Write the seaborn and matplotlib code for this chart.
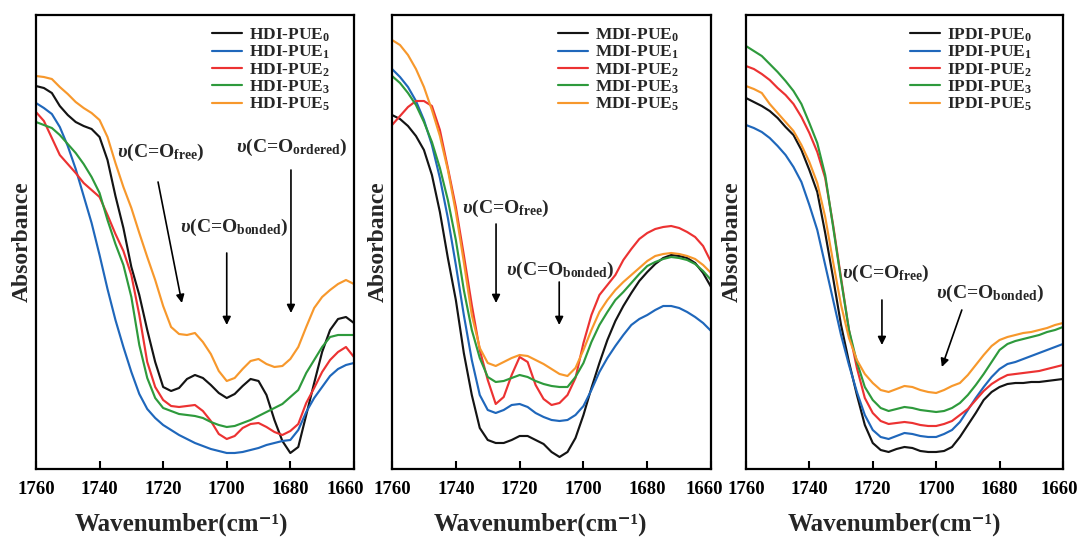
import matplotlib
matplotlib.use("Agg")
import matplotlib.pyplot as plt
from matplotlib.transforms import ScaledTranslation
import pandas as pd
import seaborn as sns

# ---------------- data (absorbance, arbitrary units) ----------------
wavenumber = [1760, 1757.5, 1755, 1752.5, 1750, 1747.5, 1745, 1742.5, 1740, 1737.5,
              1735, 1732.5, 1730, 1727.5, 1725, 1722.5, 1720, 1717.5, 1715, 1712.5,
              1710, 1707.5, 1705, 1702.5, 1700, 1697.5, 1695, 1692.5, 1690, 1687.5,
              1685, 1682.5, 1680, 1677.5, 1675, 1672.5, 1670, 1667.5, 1665, 1662.5, 1660]

hdi_pue0 = [383, 381, 376, 363, 354, 347, 343, 340, 332, 309, 273, 241, 202, 174, 139, 107, 82, 78, 81, 90,
            94, 91, 84, 76, 71, 75, 83, 90, 88, 74, 49, 28, 16, 22, 54, 86, 117, 139, 150, 152, 146]
hdi_pue1 = [366, 361, 355, 342, 323, 300, 273, 246, 214, 180, 149, 122, 97, 75, 60, 51, 44, 39, 34, 30,
            26, 23, 20, 18, 16, 16, 17, 19, 21, 24, 26, 28, 29, 39, 57, 71, 82, 93, 100, 104, 106]
hdi_pue2 = [357, 348, 331, 314, 305, 296, 286, 279, 272, 254, 235, 218, 194, 154, 107, 82, 69, 63, 62, 63,
            64, 58, 48, 35, 30, 33, 41, 45, 46, 42, 37, 34, 38, 45, 66, 81, 97, 109, 117, 122, 112]
hdi_pue3 = [347, 344, 341, 334, 325, 316, 305, 292, 276, 249, 225, 204, 172, 124, 91, 71, 61, 58, 55, 54,
            53, 51, 47, 44, 42, 43, 46, 49, 53, 57, 61, 65, 72, 79, 96, 109, 122, 132, 134, 134, 134]
hdi_pue5 = [393, 392, 390, 382, 375, 367, 361, 356, 349, 332, 306, 282, 261, 236, 212, 189, 163, 142, 135, 134,
            136, 127, 115, 98, 88, 91, 100, 108, 110, 105, 102, 103, 110, 122, 142, 161, 172, 179, 185, 189, 185]

mdi_pue0 = [354, 350, 343, 333, 319, 294, 257, 211, 169, 116, 74, 41, 29, 26, 26, 29, 33, 33, 29, 25,
            17, 12, 17, 31, 54, 81, 106, 129, 148, 163, 176, 188, 197, 205, 211, 214, 213, 211, 206, 196, 182]
mdi_pue1 = [400, 392, 382, 368, 349, 324, 291, 251, 204, 154, 109, 74, 59, 56, 59, 64, 65, 62, 56, 52,
            49, 48, 49, 54, 63, 79, 97, 111, 123, 134, 144, 150, 154, 159, 163, 163, 161, 157, 152, 146, 138]
mdi_pue2 = [344, 353, 362, 368, 368, 363, 339, 301, 262, 214, 164, 119, 89, 65, 72, 94, 112, 107, 84, 70,
            64, 66, 74, 91, 126, 154, 174, 184, 194, 209, 220, 230, 236, 240, 242, 243, 241, 237, 232, 223, 207]
mdi_pue3 = [393, 386, 376, 364, 347, 327, 301, 269, 229, 179, 139, 111, 92, 87, 88, 91, 94, 92, 88, 85,
            83, 82, 82, 92, 106, 127, 144, 157, 169, 177, 186, 195, 203, 207, 210, 212, 211, 209, 205, 198, 189]
mdi_pue5 = [429, 424, 414, 400, 382, 359, 333, 299, 257, 207, 154, 121, 106, 103, 107, 111, 114, 113, 109, 105,
            100, 95, 93, 101, 119, 139, 157, 169, 179, 187, 194, 201, 208, 213, 215, 216, 215, 213, 210, 204, 196]

ipdi_pue0 = [371, 367, 363, 358, 351, 342, 334, 319, 299, 277, 236, 191, 144, 107, 74, 44, 26, 19, 17, 20,
             22, 21, 18, 17, 17, 18, 22, 32, 44, 56, 69, 77, 82, 85, 86, 86, 87, 87, 88, 89, 90]
ipdi_pue1 = [344, 341, 337, 331, 323, 314, 302, 287, 264, 239, 204, 169, 134, 104, 77, 54, 39, 32, 30, 33,
             36, 35, 33, 32, 32, 35, 39, 47, 59, 71, 82, 92, 100, 105, 107, 110, 113, 116, 119, 122, 125]
ipdi_pue2 = [403, 400, 395, 389, 381, 374, 365, 352, 336, 317, 291, 244, 191, 139, 101, 71, 56, 48, 45, 46,
             47, 46, 44, 43, 43, 45, 48, 54, 60, 69, 78, 85, 90, 94, 95, 96, 97, 98, 100, 102, 104]
ipdi_pue3 = [423, 418, 413, 405, 397, 388, 378, 365, 346, 326, 294, 242, 189, 139, 107, 82, 69, 61, 58, 60,
             62, 61, 59, 58, 57, 58, 61, 66, 74, 84, 95, 107, 119, 125, 128, 130, 132, 134, 137, 139, 142]
ipdi_pue5 = [383, 380, 376, 365, 356, 347, 338, 324, 307, 286, 252, 207, 164, 131, 109, 95, 86, 79, 77, 80,
             83, 82, 79, 77, 76, 79, 83, 86, 94, 104, 114, 123, 129, 132, 134, 136, 137, 139, 141, 144, 146]

sample_suffix = ["0", "1", "2", "3", "5"]
series_colors = ["#141414", "#1f67bb", "#ec3232", "#2e9a3c", "#f7982c"]
x_ticks = [1760, 1740, 1720, 1700, 1680, 1660]

panels = [
    ("HDI", [hdi_pue0, hdi_pue1, hdi_pue2, hdi_pue3, hdi_pue5]),
    ("MDI", [mdi_pue0, mdi_pue1, mdi_pue2, mdi_pue3, mdi_pue5]),
    ("IPDI", [ipdi_pue0, ipdi_pue1, ipdi_pue2, ipdi_pue3, ipdi_pue5]),
]

# ---------------- style ----------------
sns.set_style("ticks")
plt.rcParams["font.family"] = ["Liberation Serif", "DejaVu Serif"]
plt.rcParams["font.weight"] = "bold"
plt.rcParams["axes.labelweight"] = "bold"
plt.rcParams["mathtext.fontset"] = "custom"
plt.rcParams["mathtext.rm"] = "Liberation Serif:bold"
plt.rcParams["mathtext.bf"] = "Liberation Serif:bold"
plt.rcParams["mathtext.it"] = "Liberation Serif:italic:bold"

fig = plt.figure(figsize=(10.8, 5.4), dpi=100)
positions = [[0.0333, 0.1315, 0.2944, 0.8407],
             [0.3630, 0.1315, 0.2954, 0.8407],
             [0.6907, 0.1315, 0.2935, 0.8407]]
legend_x = [0.553, 0.520, 0.517]
xlabel_x = [0.456, 0.464, 0.467]
last_tick_shift = [-9, -7, -4]  # px

annotations = [
    [(r"$\upsilon$(C=O$_{\mathrm{free}}$)", (1720.7, 317), (1721.6, 287), (1714.1, 166)),
     (r"$\upsilon$(C=O$_{\mathrm{bonded}}$)", (1697.7, 242), (1700.0, 216), (1700.0, 144)),
     (r"$\upsilon$(C=O$_{\mathrm{ordered}}$)", (1679.5, 322), (1679.8, 299), (1679.8, 156))],
    [(r"$\upsilon$(C=O$_{\mathrm{free}}$)", (1724.3, 261), (1727.4, 245), (1727.4, 166)),
     (r"$\upsilon$(C=O$_{\mathrm{bonded}}$)", (1707.3, 199), (1707.6, 187), (1707.6, 144))],
    [(r"$\upsilon$(C=O$_{\mathrm{free}}$)", (1715.8, 196), (1717.1, 169), (1717.1, 124)),
     (r"$\upsilon$(C=O$_{\mathrm{bonded}}$)", (1683.0, 176), (1691.9, 159), (1698.2, 102))],
]

for i, (name, series) in enumerate(panels):
    ax = fig.add_axes(positions[i])
    labels = [f"{name}-PUE$_{s}$" for s in sample_suffix]
    frames = []
    for lab, vals in zip(labels, series):
        frames.append(pd.DataFrame({"Wavenumber": wavenumber, "Absorbance": vals, "Sample": lab}))
    df = pd.concat(frames, ignore_index=True)
    sns.lineplot(data=df, x="Wavenumber", y="Absorbance", hue="Sample",
                 palette=dict(zip(labels, series_colors)), linewidth=1.55, ax=ax)

    ax.set_xlim(1760, 1660)
    ax.set_ylim(0, 454)
    ax.set_yticks([])
    ax.set_xticks(x_ticks)
    ax.set_xticklabels([str(t) for t in x_ticks])
    ax.tick_params(axis="x", direction="in", length=6, width=1.5, pad=9,
                   labelsize=13.5, colors="black")
    tl = ax.get_xticklabels()[-1]
    tl.set_transform(tl.get_transform() +
                     ScaledTranslation(last_tick_shift[i] / 100, 0, fig.dpi_scale_trans))
    for sp in ax.spines.values():
        sp.set_visible(True)
        sp.set_linewidth(1.6)
        sp.set_color("black")
    ax.set_xlabel("Wavenumber(cm\u207b\u00b9)", fontsize=18, fontweight="bold")
    ax.xaxis.set_label_coords(xlabel_x[i], -0.095)
    ax.set_ylabel("Absorbance", fontsize=17, fontweight="bold", labelpad=2)

    handles, hl = ax.get_legend_handles_labels()
    ax.legend(handles, hl, loc="upper left", bbox_to_anchor=(legend_x[i], 0.975),
              frameon=False, labelspacing=0.0, handlelength=1.75,
              handletextpad=0.4, borderpad=0, borderaxespad=0,
              prop={"weight": "bold", "size": 12.5})

    for text, txy, a0, a1 in annotations[i]:
        ax.text(txy[0], txy[1], text, ha="center", va="center", fontsize=14)
        ax.annotate("", xy=a1, xytext=a0,
                    arrowprops=dict(arrowstyle="-|>", color="black", lw=1.2,
                                    mutation_scale=12, shrinkA=0, shrinkB=0))

fig.savefig("out.png", dpi=100)
